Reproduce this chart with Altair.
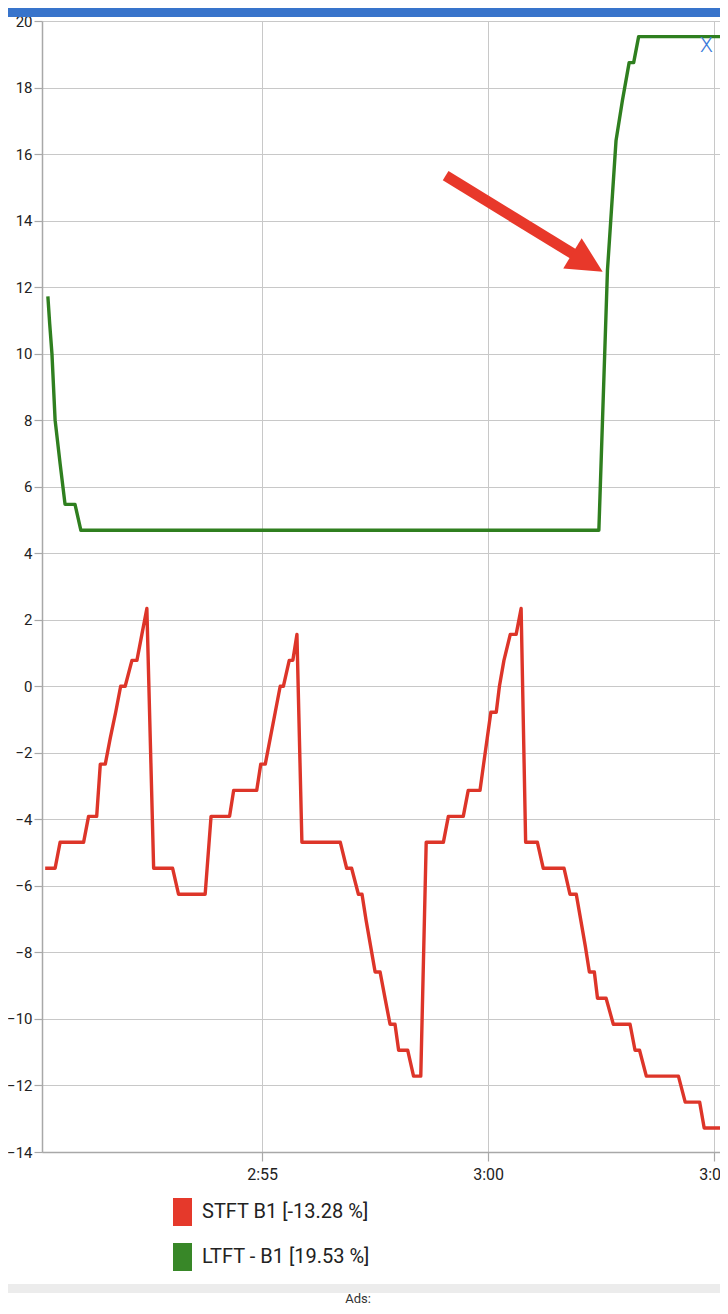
import altair as alt
import pandas as pd

STFT_NAME = "STFT B1 [-13.28 %]"
LTFT_NAME = "LTFT - B1 [19.53 %]"

# time in seconds (axis shows m:ss)
stft_t = [170.20, 170.42, 170.53, 171.05, 171.16, 171.34, 171.42, 171.53, 171.64, 171.76,
          171.87, 171.97, 172.12, 172.23, 172.34, 172.45, 172.60, 173.02, 173.15, 173.74,
          173.87, 174.28, 174.37, 174.88, 174.97, 175.07, 175.18, 175.29, 175.40, 175.47,
          175.60, 175.68, 175.77, 175.88, 176.73, 176.87, 176.98, 177.13, 177.21, 177.30,
          177.40, 177.50, 177.61, 177.72, 177.83, 177.94, 178.02, 178.22, 178.35, 178.51,
          178.63, 179.01, 179.12, 179.45, 179.56, 179.82, 179.90, 179.98, 180.06, 180.18,
          180.25, 180.35, 180.49, 180.62, 180.73, 180.83, 181.09, 181.22, 181.68, 181.81,
          181.95, 182.05, 182.15, 182.24, 182.35, 182.42, 182.61, 182.77, 183.14, 183.25,
          183.35, 183.50, 184.21, 184.36, 184.68, 184.78, 185.19]
stft_v = [-5.47, -5.47, -4.69, -4.69, -3.91, -3.91, -2.34, -2.34, -1.56, -0.78,
          0.0, 0.0, 0.78, 0.78, 1.56, 2.34, -5.47, -5.47, -6.25, -6.25,
          -3.91, -3.91, -3.13, -3.13, -2.34, -2.34, -1.56, -0.78, 0.0, 0.0,
          0.78, 0.78, 1.56, -4.69, -4.69, -5.47, -5.47, -6.25, -6.25, -7.03,
          -7.81, -8.59, -8.59, -9.38, -10.16, -10.16, -10.94, -10.94, -11.72, -11.72,
          -4.69, -4.69, -3.91, -3.91, -3.13, -3.13, -2.34, -1.56, -0.78, -0.78,
          0.0, 0.78, 1.56, 1.56, 2.34, -4.69, -4.69, -5.47, -5.47, -6.25,
          -6.25, -7.03, -7.81, -8.59, -8.59, -9.38, -9.38, -10.16, -10.16, -10.94,
          -10.94, -11.72, -11.72, -12.50, -12.50, -13.28, -13.28]

ltft_t = [170.26, 170.30, 170.35, 170.42, 170.53, 170.64, 170.86, 170.99,
          182.45, 182.64, 182.83, 182.97, 183.12, 183.22, 183.33, 185.19]
ltft_v = [11.72, 10.9, 10.0, 8.0, 6.7, 5.47, 5.47, 4.69,
          4.69, 12.5, 16.41, 17.6, 18.75, 18.75, 19.53, 19.53]

x_domain = [170.13, 185.13]
y_domain = [-14, 20]
x_ticks = [175, 180, 185]
y_ticks = list(range(-14, 21, 2))

# annotation arrow (data coordinates)
arrow_t = [179.06, 182.0]
arrow_v = [15.35, 12.9]
head_t = [182.20]
head_v = [12.74]

RED = "#DD3529"
GREEN = "#2F7F1F"
LEG_RED = "#E5392B"
LEG_GREEN = "#388728"
ARROW_RED = "#E8382A"
FONT = "Roboto"

lines_df = pd.concat([
    pd.DataFrame({"t": stft_t, "v": stft_v, "series": STFT_NAME}),
    pd.DataFrame({"t": ltft_t, "v": ltft_v, "series": LTFT_NAME}),
], ignore_index=True)

xs = alt.Scale(domain=x_domain, nice=False, zero=False)
ys = alt.Scale(domain=y_domain, nice=False, zero=False)

x_axis = alt.Axis(values=x_ticks, title=None, grid=True, labelFlush=False,
                  labelExpr="floor(datum.value/60) + ':' + (datum.value % 60 < 10 ? '0' : '') + (datum.value % 60)",
                  tickSize=9, labelPadding=5, labelFontSize=16)
y_axis = alt.Axis(values=y_ticks, title=None, grid=True, tickSize=8, labelPadding=2,
                  labelFontSize=15)

one = pd.DataFrame({"a": [0]})

blue_bar = alt.Chart(one).mark_rect(color="#3874CB").encode(
    x=alt.value(-34), x2=alt.value(678), y=alt.value(-13), y2=alt.value(-4))

gray_band = alt.Chart(one).mark_rect(color="#ECECEC").encode(
    x=alt.value(-34), x2=alt.value(678), y=alt.value(1263), y2=alt.value(1272))

# stroke scale domain comes from the data (sorted: LTFT, STFT)
lines = alt.Chart(lines_df).mark_line(strokeWidth=3.4, strokeJoin="round").encode(
    x=alt.X("t:Q", scale=xs, axis=x_axis),
    y=alt.Y("v:Q", scale=ys, axis=y_axis),
    stroke=alt.Stroke("series:N", scale=alt.Scale(range=[GREEN, RED]), legend=None),
)

legend_layer = alt.Chart(lines_df).transform_filter("false").mark_point(
    filled=True, opacity=1, strokeWidth=0).encode(
    x=alt.X("t:Q", scale=xs),
    y=alt.Y("v:Q", scale=ys),
    fill=alt.Fill("series:N",
                  scale=alt.Scale(domain=[STFT_NAME, LTFT_NAME], range=[LEG_RED, LEG_GREEN]),
                  legend=alt.Legend(title=None, orient="none", legendX=126.5, legendY=1177,
                                    symbolType="M-0.68,-1H0.68V1H-0.68Z", symbolSize=784,
                                    symbolStrokeWidth=0, symbolOpacity=1,
                                    labelFontSize=20, labelFont=FONT,
                                    labelColor="#222222", labelOffset=5.5, rowPadding=17,
                                    padding=0, labelLimit=400, direction="vertical")),
)

arrow_df = pd.DataFrame({"t1": [arrow_t[0]], "v1": [arrow_v[0]], "t2": [arrow_t[1]], "v2": [arrow_v[1]]})
shaft = alt.Chart(arrow_df).mark_rule(color=ARROW_RED, strokeWidth=11, strokeCap="butt").encode(
    x=alt.X("t1:Q", scale=xs), y=alt.Y("v1:Q", scale=ys), x2="t2:Q", y2="v2:Q")

head = alt.Chart(pd.DataFrame({"t": head_t, "v": head_v})).mark_point(
    shape="M-1,-1L1,0L-1,1Z", size=1253, angle=31.4, filled=True, color=ARROW_RED,
    opacity=1, strokeWidth=0).encode(
    x=alt.X("t:Q", scale=xs), y=alt.Y("v:Q", scale=ys))

close_x = alt.Chart(one).mark_text(text="X", font=FONT, fontSize=21, fontWeight=300,
                                   color="#3B7BDA", align="center", baseline="middle").encode(
    x=alt.value(664.5), y=alt.value(24.5))

ads = alt.Chart(one).mark_text(text="Ads:", font=FONT, fontSize=13, color="#333333",
                               align="center", baseline="middle").encode(
    x=alt.value(316), y=alt.value(1278))

chart = alt.layer(gray_band, lines, legend_layer, shaft, head, close_x, ads, blue_bar).properties(
    width=678, height=1131,
    autosize=alt.AutoSizeParams(type="none"),
    padding={"left": 34, "top": 13, "right": 0, "bottom": 154},
    background="white",
).configure_view(strokeWidth=0).configure_axis(
    gridColor="#C8C8C8", gridWidth=1, domainColor="#A8A8A8", domainWidth=1.5,
    tickColor="#A8A8A8", tickWidth=1.2, labelFont=FONT, labelColor="#222222",
)

chart.save("out.html", embed_options={"renderer": "svg", "actions": False})
